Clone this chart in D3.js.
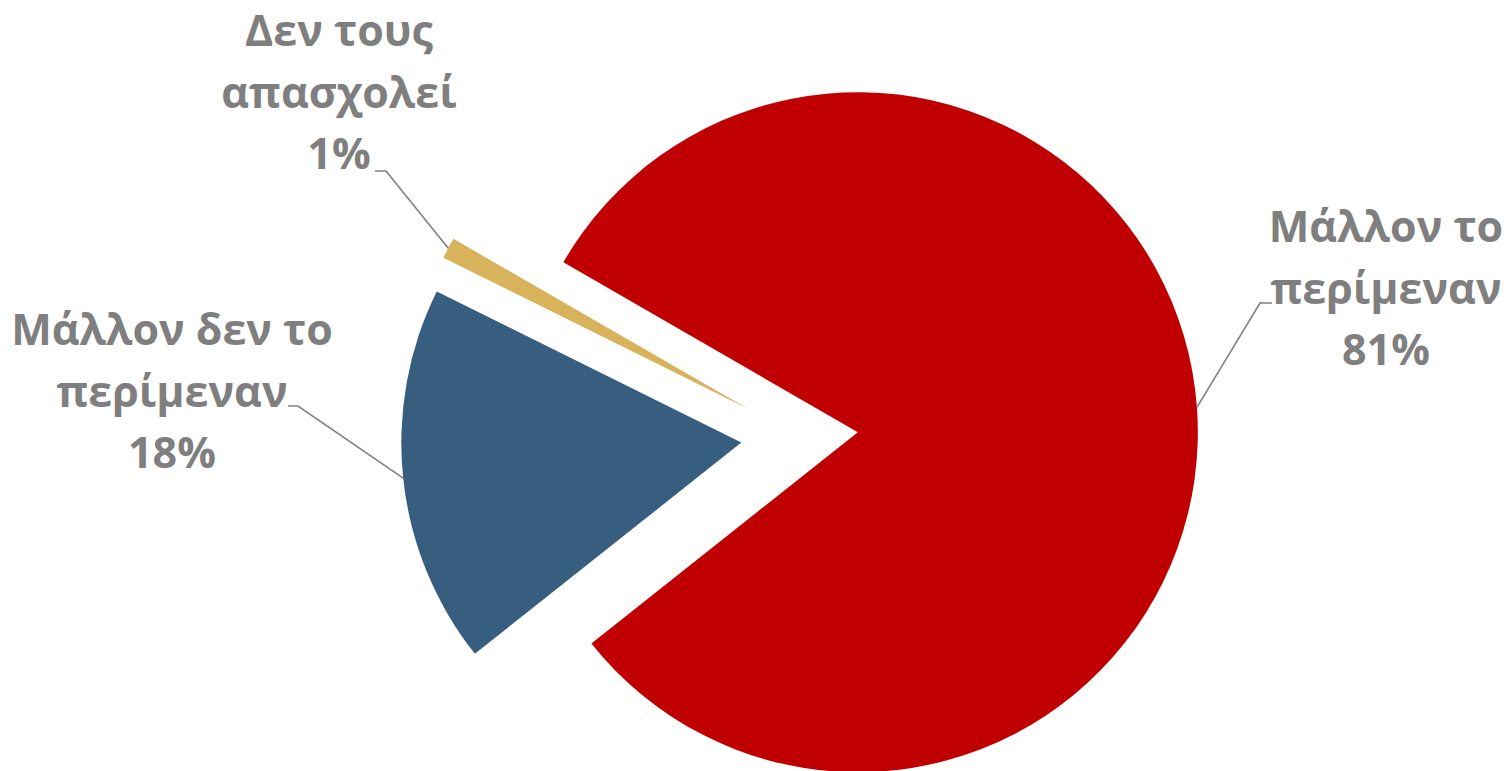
<!DOCTYPE html>
<html><head><meta charset="utf-8">
<script src="https://cdn.jsdelivr.net/npm/d3@7"></script>
<style>html,body{margin:0;padding:0;background:#fff;overflow:hidden}</style>
</head><body>
<svg id="chart" width="1506" height="771"></svg>
<script>
// ---- data ----
const categories = ["Μάλλον το περίμεναν", "Μάλλον δεν το περίμεναν", "Δεν τους απασχολεί"];
const values = [81, 18, 1];
const labelLines = [["Μάλλον το", "περίμεναν"], ["Μάλλον δεν το", "περίμεναν"], ["Δεν τους", "απασχολεί"]];

// ---- style / layout ----
const colors = ["#C00000", "#375E7F", "#D9B25C"];
const center = [799.5, 436.5], radius = 340, explode = 58.5;
const startDeg = -60;
const labelLayout = [
  {cx: 1386, y0: 242, elbow: [1260, 303], tickEnd: 1272},
  {cx: 172,  y0: 345, elbow: [298, 406],  tickEnd: 288},
  {cx: 339,  y0: 46,  elbow: [386, 171],  tickEnd: 375}
];
const lineGap = 61.5;

const svg = d3.select("#chart");
const total = d3.sum(values);
const pct = d3.format(".0%");

const pie = d3.pie().sort(null).value(d => d)
  .startAngle(startDeg * Math.PI / 180)
  .endAngle(startDeg * Math.PI / 180 + 2 * Math.PI);
const arcs = pie(values);
const arc = d3.arc().innerRadius(0).outerRadius(radius);

const apex = a => {
  const m = (a.startAngle + a.endAngle) / 2;
  return [center[0] + explode * Math.sin(m), center[1] - explode * Math.cos(m)];
};

svg.selectAll("path.slice").data(arcs).enter().append("path")
  .attr("class", "slice")
  .attr("transform", d => `translate(${apex(d)})`)
  .attr("d", arc)
  .attr("fill", (d, i) => colors[i]);

// leader lines
arcs.forEach((a, i) => {
  const m = (a.startAngle + a.endAngle) / 2;
  const p = apex(a);
  const s = [p[0] + radius * Math.sin(m), p[1] - radius * Math.cos(m)];
  const L = labelLayout[i];
  svg.append("path")
    .attr("d", d3.line()([s, L.elbow, [L.tickEnd, L.elbow[1]]]))
    .attr("fill", "none").attr("stroke", "#808080").attr("stroke-width", 1.6);
});

// labels
arcs.forEach((a, i) => {
  const L = labelLayout[i];
  const lines = labelLines[i].concat([pct(values[i] / total)]);
  const t = svg.append("text")
    .attr("text-anchor", "middle")
    .attr("font-family", "'Open Sans', 'Noto Sans', sans-serif")
    .attr("font-weight", 700)
    .attr("font-size", 43)
    .attr("fill", "#7F7F7F");
  lines.forEach((ln, k) => {
    t.append("tspan").attr("x", L.cx).attr("y", L.y0 + k * lineGap).text(ln);
  });
});
</script>
</body></html>
